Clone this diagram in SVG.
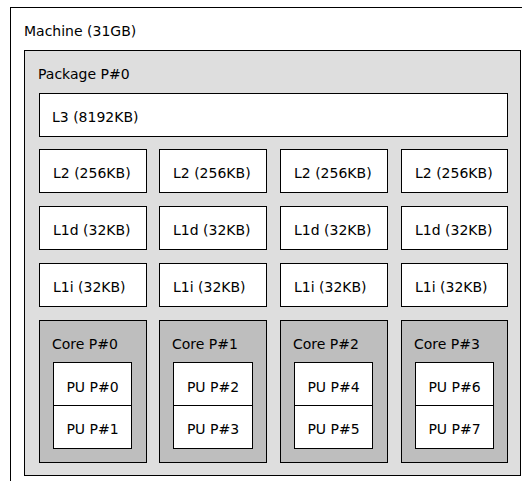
<svg xmlns="http://www.w3.org/2000/svg" width="522" height="481" viewBox="0 0 522 481">
<style>
.b{stroke:#000;stroke-width:1}
.w{fill:#fff}
.pkg{fill:#dedede}
.core{fill:#bebebe}
text{font-family:"DejaVu Sans",sans-serif;font-size:14px;fill:#000}
.m{text-anchor:middle}
</style>
<rect x="0" y="0" width="522" height="481" fill="#fff"/>
<g id="machine"><rect class="b w" x="10.5" y="7.5" width="530" height="490"/><text x="24" y="36">Machine (31GB)</text></g>
<g id="package"><rect class="b pkg" x="24.5" y="50.5" width="496" height="425"/><text x="38" y="79">Package P#0</text></g>
<g id="l3"><rect class="b w" x="39.5" y="93.5" width="468" height="43"/><text x="52" y="121.5">L3 (8192KB)</text></g>
<g id="l2-0"><rect class="b w" x="39.5" y="149.5" width="107" height="43"/><text x="53" y="177.5">L2 (256KB)</text></g>
<g id="l2-1"><rect class="b w" x="159.5" y="149.5" width="107" height="43"/><text x="173" y="177.5">L2 (256KB)</text></g>
<g id="l2-2"><rect class="b w" x="280.5" y="149.5" width="107" height="43"/><text x="294" y="177.5">L2 (256KB)</text></g>
<g id="l2-3"><rect class="b w" x="401.5" y="149.5" width="106" height="43"/><text x="415" y="177.5">L2 (256KB)</text></g>
<g id="l1d-0"><rect class="b w" x="39.5" y="206.5" width="107" height="43"/><text x="53" y="234.5">L1d (32KB)</text></g>
<g id="l1d-1"><rect class="b w" x="159.5" y="206.5" width="107" height="43"/><text x="173" y="234.5">L1d (32KB)</text></g>
<g id="l1d-2"><rect class="b w" x="280.5" y="206.5" width="107" height="43"/><text x="294" y="234.5">L1d (32KB)</text></g>
<g id="l1d-3"><rect class="b w" x="401.5" y="206.5" width="106" height="43"/><text x="415" y="234.5">L1d (32KB)</text></g>
<g id="l1i-0"><rect class="b w" x="39.5" y="263.5" width="107" height="43"/><text x="53" y="291.5">L1i (32KB)</text></g>
<g id="l1i-1"><rect class="b w" x="159.5" y="263.5" width="107" height="43"/><text x="173" y="291.5">L1i (32KB)</text></g>
<g id="l1i-2"><rect class="b w" x="280.5" y="263.5" width="107" height="43"/><text x="294" y="291.5">L1i (32KB)</text></g>
<g id="l1i-3"><rect class="b w" x="401.5" y="263.5" width="106" height="43"/><text x="415" y="291.5">L1i (32KB)</text></g>
<g id="core-0"><rect class="b core" x="39.5" y="320.5" width="107" height="142"/><text x="52" y="349">Core P#0</text></g>
<g id="core-1"><rect class="b core" x="159.5" y="320.5" width="107" height="142"/><text x="172" y="349">Core P#1</text></g>
<g id="core-2"><rect class="b core" x="280.5" y="320.5" width="107" height="142"/><text x="293" y="349">Core P#2</text></g>
<g id="core-3"><rect class="b core" x="401.5" y="320.5" width="106" height="142"/><text x="414" y="349">Core P#3</text></g>
<g id="pu-0"><rect class="b w" x="53.5" y="362.5" width="78" height="43"/><text class="m" x="92.5" y="391.5">PU P#0</text></g>
<g id="pu-1"><rect class="b w" x="53.5" y="405.5" width="78" height="43"/><text class="m" x="92.5" y="434">PU P#1</text></g>
<g id="pu-2"><rect class="b w" x="173.5" y="362.5" width="79" height="43"/><text class="m" x="213" y="391.5">PU P#2</text></g>
<g id="pu-3"><rect class="b w" x="173.5" y="405.5" width="79" height="43"/><text class="m" x="213" y="434">PU P#3</text></g>
<g id="pu-4"><rect class="b w" x="294.5" y="362.5" width="78" height="43"/><text class="m" x="333.5" y="391.5">PU P#4</text></g>
<g id="pu-5"><rect class="b w" x="294.5" y="405.5" width="78" height="43"/><text class="m" x="333.5" y="434">PU P#5</text></g>
<g id="pu-6"><rect class="b w" x="415.5" y="362.5" width="78" height="43"/><text class="m" x="454.5" y="391.5">PU P#6</text></g>
<g id="pu-7"><rect class="b w" x="415.5" y="405.5" width="78" height="43"/><text class="m" x="454.5" y="434">PU P#7</text></g>
<g id="connectors"></g>
</svg>
